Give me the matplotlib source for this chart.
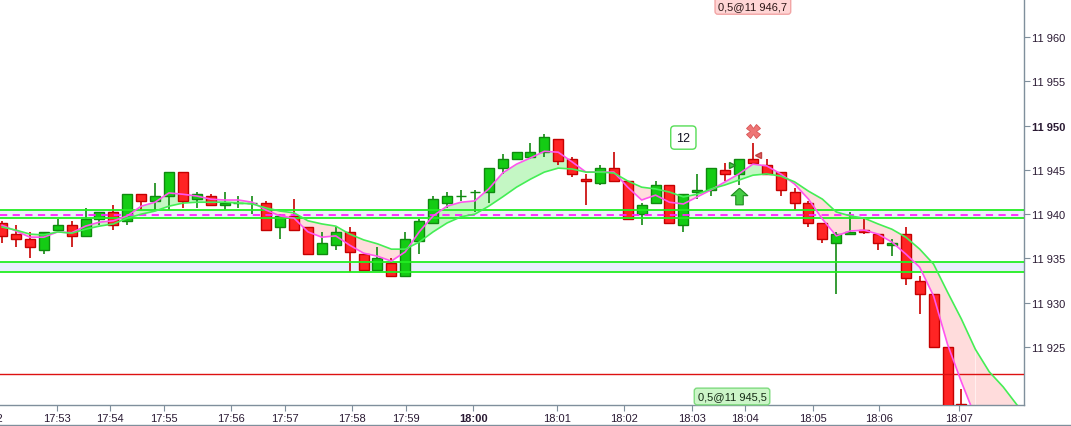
import matplotlib.pyplot as plt
import numpy as np
from matplotlib.lines import Line2D
from matplotlib.transforms import blended_transform_factory

plt.rcParams['font.family'] = ['Liberation Sans', 'DejaVu Sans']

# OHLC per bar (bar index 0..69)
opens = [11939.0, 11937.75, 11937.25, 11936.0, 11938.25, 11938.75, 11937.5, 11939.5, 11940.25, 11939.25,
         11942.25, 11941.5, 11942.0, 11944.75, 11941.75, 11942.0, 11941.0, 11941.25, 11941.25, 11941.25,
         11938.5, 11939.75, 11938.5, 11935.5, 11936.5, 11938.0, 11935.5, 11933.75, 11934.5, 11933.0,
         11937.0, 11939.0, 11941.25, 11942.0, 11942.5, 11942.5, 11945.25, 11946.25, 11946.5, 11947.0,
         11948.5, 11946.25, 11944.0, 11943.5, 11945.25, 11943.75, 11940.0, 11941.25, 11943.25, 11938.75,
         11942.5, 11942.75, 11945.0, 11944.5, 11946.25, 11945.5, 11944.75, 11942.5, 11941.25, 11939.0,
         11936.75, 11937.75, 11938.25, 11937.75, 11936.5, 11937.75, 11932.5, 11931.0, 11925.0, 11918.6]
highs = [11939.25, 11938.75, 11938.0, 11938.0, 11939.5, 11939.25, 11940.75, 11940.25, 11941.0, 11942.25,
         11942.25, 11943.5, 11944.75, 11944.75, 11942.5, 11942.25, 11942.5, 11942.0, 11942.0, 11941.5,
         11940.0, 11941.75, 11938.5, 11938.0, 11938.5, 11938.5, 11935.5, 11936.25, 11935.0, 11938.0,
         11939.5, 11942.0, 11942.5, 11942.75, 11942.75, 11945.25, 11946.75, 11947.0, 11948.0, 11949.0,
         11948.5, 11946.5, 11944.5, 11945.5, 11947.0, 11943.75, 11941.25, 11943.75, 11943.25, 11942.25,
         11944.5, 11945.25, 11945.75, 11946.25, 11948.0, 11946.25, 11944.75, 11943.0, 11941.5, 11939.0,
         11938.0, 11940.25, 11939.5, 11937.75, 11937.25, 11938.5, 11933.0, 11931.0, 11925.0, 11920.25]
lows = [11936.75, 11936.25, 11935.0, 11935.5, 11938.0, 11936.25, 11937.5, 11938.75, 11938.25, 11938.75,
        11940.5, 11940.5, 11940.5, 11940.75, 11940.75, 11941.0, 11940.5, 11940.75, 11940.0, 11938.25,
        11937.25, 11938.25, 11935.5, 11935.5, 11936.0, 11933.5, 11933.75, 11933.75, 11933.0, 11933.0,
        11935.5, 11939.0, 11940.75, 11941.5, 11940.25, 11941.25, 11944.5, 11946.25, 11946.25, 11946.5,
        11945.5, 11944.25, 11941.0, 11943.25, 11943.75, 11939.5, 11938.75, 11941.25, 11939.0, 11938.0,
        11941.75, 11942.0, 11943.75, 11943.25, 11945.75, 11944.5, 11942.0, 11940.5, 11938.5, 11936.75,
        11931.0, 11937.75, 11937.75, 11936.0, 11935.25, 11932.0, 11928.75, 11925.0, 11918.25, 11918.5]
closes = [11937.5, 11937.25, 11936.25, 11938.0, 11938.75, 11937.5, 11939.5, 11940.25, 11938.75, 11942.25,
          11941.5, 11942.0, 11944.75, 11941.5, 11942.25, 11941.0, 11941.25, 11941.25, 11941.25, 11938.25,
          11939.75, 11938.25, 11935.5, 11936.75, 11938.0, 11935.75, 11933.75, 11935.0, 11933.0, 11937.25,
          11939.25, 11941.75, 11942.0, 11942.0, 11942.5, 11945.25, 11946.25, 11947.0, 11947.0, 11948.75,
          11946.0, 11944.5, 11943.75, 11945.25, 11943.75, 11939.5, 11941.0, 11943.25, 11939.0, 11942.25,
          11942.75, 11945.25, 11944.5, 11946.25, 11945.75, 11944.5, 11942.75, 11941.25, 11939.0, 11937.25,
          11937.75, 11938.0, 11938.0, 11936.75, 11936.75, 11932.75, 11931.0, 11925.0, 11918.25, 11918.5]

# moving averages (fast = magenta, slow = green, slow one is drawn a few bars ahead)
ma_fast = [11938.75, 11938.1, 11937.4, 11937.4, 11938.0, 11937.9, 11938.65, 11939.1, 11939.25, 11939.8,
           11940.9, 11941.35, 11942.4, 11942.25, 11942.05, 11941.7, 11941.6, 11941.6, 11941.35, 11940.45,
           11939.8, 11939.55, 11938.0, 11937.4, 11937.55, 11936.5, 11935.6, 11935.25, 11934.7, 11935.75,
           11938.0, 11939.8, 11940.9, 11941.35, 11941.5, 11942.85, 11944.65, 11945.65, 11946.35, 11947.1,
           11947.0, 11945.9, 11944.75, 11944.75, 11944.75, 11943.05, 11941.6, 11942.15, 11941.35, 11941.15,
           11941.95, 11942.75, 11943.65, 11944.55, 11945.65, 11945.45, 11944.55, 11943.4, 11941.7, 11939.45,
           11937.55, 11938.1, 11938.2, 11937.75, 11936.85, 11935.5, 11934.0, 11930.75, 11925.3, 11921.05,
           11917.1]
ma_slow = [11938.55, 11938.2, 11937.75, 11937.65, 11938.0, 11937.85, 11938.3, 11938.65, 11938.9, 11939.55,
           11940.0, 11940.35, 11940.9, 11941.25, 11941.35, 11941.35, 11941.35, 11941.25, 11941.15, 11940.7,
           11940.35, 11940.15, 11939.25, 11938.9, 11938.65, 11937.75, 11937.1, 11936.65, 11936.05, 11936.05,
           11936.85, 11938.0, 11939.0, 11939.7, 11940.0, 11940.9, 11941.95, 11943.05, 11943.95, 11944.75,
           11945.2, 11945.1, 11944.75, 11944.75, 11944.65, 11943.75, 11943.05, 11942.85, 11942.5, 11941.95,
           11942.25, 11942.85, 11943.3, 11943.85, 11944.4, 11944.55, 11944.3, 11943.65, 11942.6, 11941.7,
           11940.25, 11939.8, 11939.55, 11938.9, 11938.3, 11937.4, 11936.05, 11934.35, 11931.2, 11928.15,
           11924.75, 11922.2, 11920.5, 11918.45, 11916.9]

# horizontal levels
upper_zone = (11939.55, 11940.45)
mid_level = 11939.9
lower_zone = (11933.45, 11934.65)
red_level = 11921.95

# time axis labels (positions in bar units)
time_pos = [3.95, 7.76, 11.65, 16.47, 20.35, 25.17, 29.06, 33.88, 39.92, 44.74, 49.63, 53.45, 58.34, 63.09, 68.84]
time_labels = ["17:53", "17:54", "17:55", "17:56", "17:57", "17:58", "17:59", "18:00",
               "18:01", "18:02", "18:03", "18:04", "18:05", "18:06", "18:07"]
price_ticks = [11925, 11930, 11935, 11940, 11945, 11950, 11955, 11960]

# trade marks
entry_bar, entry_price = 52.5, 11945.55
exit_bar, exit_price = 54.4, 11946.68
stop_bar, stop_price = 54.0, 11949.37
arrow_bar, arrow_price = 53.0, 11942.05
count_bar, count_price = 49.0, 11948.65

YMIN, YMAX = 11918.45, 11964.3
AXIS_COL = "#7f8f9c"
TXT_COL = "#2a1a33"

fig = plt.figure(figsize=(10.71, 4.27), dpi=100)
ax = fig.add_axes([0, 21 / 427, 1024 / 1071, 406 / 427])

# zones
ax.axhspan(*upper_zone, color="#eeedff", zorder=1, lw=0)
ax.axhspan(*lower_zone, color="#e8eefc", zorder=1, lw=0)

# fill between moving averages
n_f = len(ma_fast)
xf = np.arange(n_f)
fast = np.array(ma_fast)
slow = np.array(ma_slow)
ax.fill_between(xf, fast, slow[:n_f], where=fast >= slow[:n_f], interpolate=True,
                color="#c4f7c4", lw=0, zorder=2)
ax.fill_between(xf, fast, slow[:n_f], where=fast <= slow[:n_f], interpolate=True,
                color="#ffdcdc", lw=0, zorder=2)
xs_tail = np.arange(n_f - 1, len(ma_slow))
ax.fill_between(xs_tail, slow[n_f - 1:], YMIN - 5, color="#ffdcdc", lw=0, zorder=2)

# candles
o = np.array(opens)
h = np.array(highs)
l = np.array(lows)
c = np.array(closes)
x = np.arange(len(o))
up = c >= o
wick_cols = np.where(up, "#138a13", "#c80000")
ax.vlines(x, l, h, colors=wick_cols, lw=1.2, zorder=3)
bottoms = np.minimum(o, c)
heights = np.maximum(np.abs(c - o), 0.04)
ax.bar(x[up], heights[up], bottom=bottoms[up], width=0.72,
       color="#14cc14", edgecolor="#0f8a0f", lw=1, zorder=4)
ax.bar(x[~up], heights[~up], bottom=bottoms[~up], width=0.72,
       color="#ff2424", edgecolor="#c40000", lw=1, zorder=4)

# level lines
for lv in upper_zone + lower_zone:
    ax.axhline(lv, color="#22ee22", lw=1.3, zorder=5)
ax.axhline(mid_level, color="#ff22ff", lw=1.3, dashes=(4, 3), zorder=5)
ax.axhline(red_level, color="#dd1111", lw=1, zorder=5)

# moving average lines
ax.plot(xf, fast, color="#ff55ee", lw=1.2, zorder=6)
ax.plot(np.arange(len(slow)), slow, color="#44ee55", lw=1.2, zorder=6)

# trade markers
ax.plot(stop_bar, stop_price, marker="X", ms=10, color="#ee7575", mec="#d85555", mew=0.6, zorder=7)
ax.plot(exit_bar, exit_price, marker="<", ms=5, color="#e06060", mec="#c04040", zorder=7)
ax.plot(entry_bar, entry_price, marker=">", ms=5, color="#44cc44", mec="#228822", zorder=7)
arrow = [(0, 1), (1, 0.1), (0.45, 0.1), (0.45, -1), (-0.45, -1), (-0.45, 0.1), (-1, 0.1), (0, 1)]
ax.plot(arrow_bar, arrow_price, marker=arrow, ms=12, color="#44cc44", mec="#1f8a1f", mew=0.8, zorder=7)

ax.text(count_bar, count_price, "12", ha="center", va="center", fontsize=9, color="#111122", zorder=8,
        bbox=dict(boxstyle="round,pad=0.45,rounding_size=0.3", fc="white", ec="#55dd55", lw=1))

trans = blended_transform_factory(ax.transData, ax.transAxes)
ax.text(stop_bar, 0.983, "0,5@11 946,7", transform=trans, ha="center", va="center", fontsize=8,
        color="#2a1515", zorder=8,
        bbox=dict(boxstyle="round,pad=0.3,rounding_size=0.25", fc="#ffd5d5", ec="#f2a5a5", lw=1))
ax.text(entry_bar, 0.021, "0,5@11 945,5", transform=trans, ha="center", va="center", fontsize=8,
        color="#152a15", zorder=8,
        bbox=dict(boxstyle="round,pad=0.3,rounding_size=0.25", fc="#ccf5c8", ec="#7fdb7f", lw=1))

# axes styling
ax.set_xlim(-0.15, 73.5)
ax.set_ylim(YMIN, YMAX)
for side in ["top", "left"]:
    ax.spines[side].set_visible(False)
for side in ["right", "bottom"]:
    ax.spines[side].set_color(AXIS_COL)
    ax.spines[side].set_linewidth(1)

ax.yaxis.tick_right()
ax.set_yticks(price_ticks)
ax.set_yticklabels([f"{p:,}".replace(",", " ") for p in price_ticks])
ax.tick_params(axis="y", direction="out", length=4, color=AXIS_COL, labelsize=8, labelcolor=TXT_COL, pad=2)
ax.set_xticks(time_pos)
ax.set_xticklabels(time_labels)
ax.tick_params(axis="x", direction="out", length=4, color=AXIS_COL, labelsize=8, labelcolor=TXT_COL, pad=2)
for lab in ax.get_yticklabels():
    if lab.get_text() == "11 950":
        lab.set_fontweight("bold")
for lab in ax.get_xticklabels():
    if lab.get_text() == "18:00":
        lab.set_fontweight("bold")

# partially visible first label
ax.text(-0.95, -0.032, "17:52", transform=trans, ha="center", va="center", fontsize=8,
        color=TXT_COL, clip_on=False)

fig.add_artist(Line2D([0, 1], [1.2 / 427, 1.2 / 427], transform=fig.transFigure, color=AXIS_COL, lw=1))

fig.savefig("out.png", dpi=100)
